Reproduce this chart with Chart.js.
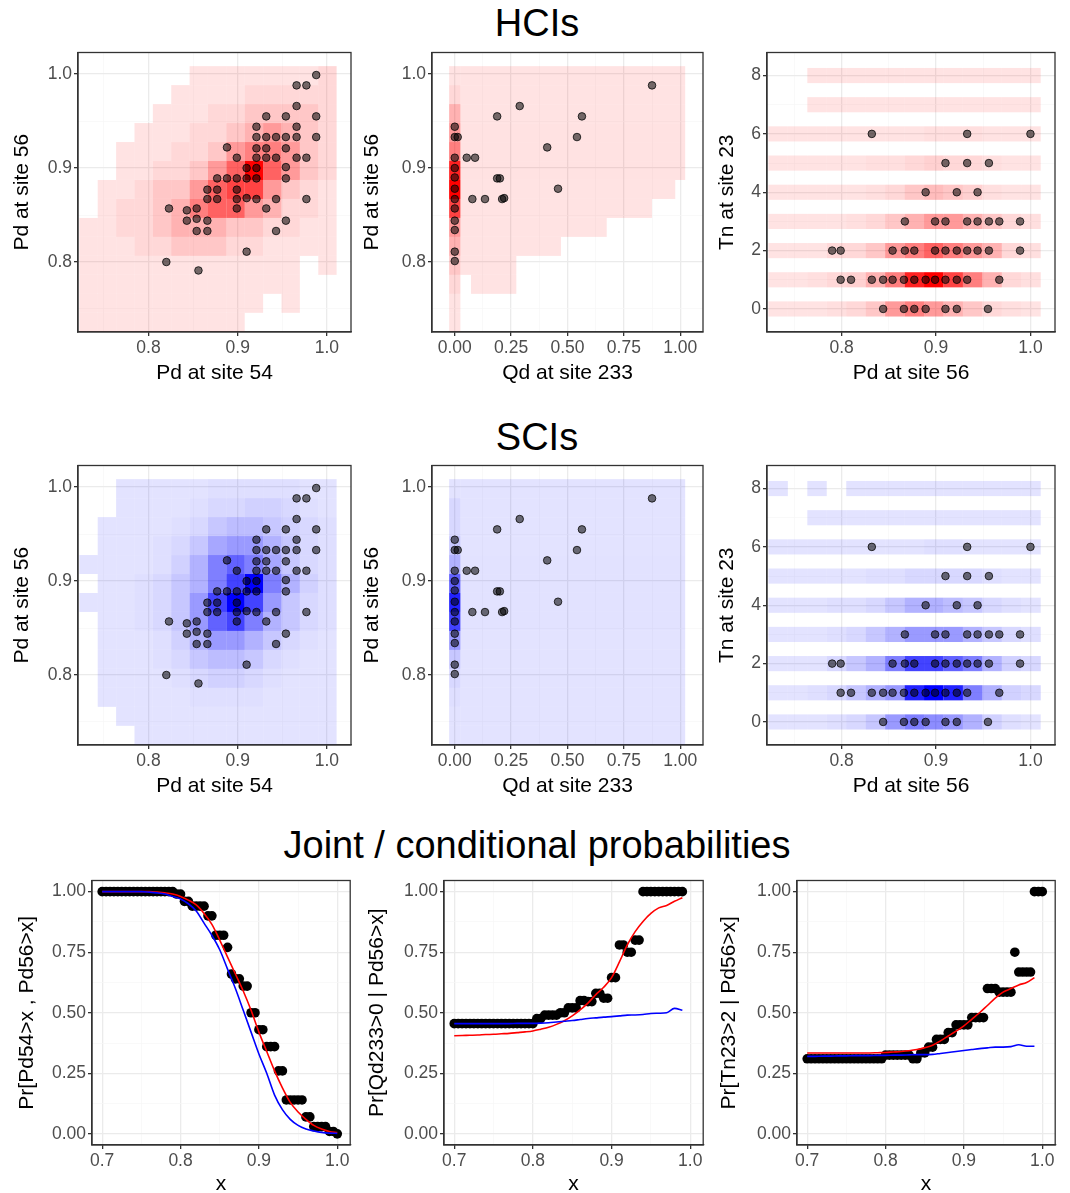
<!DOCTYPE html>
<html>
<head>
<meta charset="utf-8">
<script src="https://cdn.jsdelivr.net/npm/chart.js@4.4.1/dist/chart.umd.min.js"></script>
<style>
  body { margin: 0; background: #fff; width: 1070px; height: 1193px; position: relative; overflow: hidden; font-family: "Liberation Sans", Arial, sans-serif; }
  .ttl { position: absolute; left: 0; width: 1074px; text-align: center; font-size: 38px; color: #000; }
  canvas { position: absolute; }
</style>
</head>
<body>
<div class="ttl" style="top:2px">HCIs</div>
<div class="ttl" style="top:416px">SCIs</div>
<div class="ttl" style="top:824px">Joint / conditional probabilities</div>
<canvas id="c1" style="left:10px;top:40px" width="346" height="346"></canvas>
<canvas id="c2" style="left:360px;top:40px" width="348" height="346"></canvas>
<canvas id="c3" style="left:715px;top:40px" width="345" height="346"></canvas>
<canvas id="c4" style="left:10px;top:453px" width="346" height="346"></canvas>
<canvas id="c5" style="left:360px;top:453px" width="348" height="346"></canvas>
<canvas id="c6" style="left:715px;top:453px" width="345" height="346"></canvas>
<canvas id="c7" style="left:15px;top:868px" width="340" height="329"></canvas>
<canvas id="c8" style="left:365px;top:868px" width="343" height="329"></canvas>
<canvas id="c9" style="left:717px;top:868px" width="343" height="329"></canvas>
<script>
// observed points: Pd at site 54 / Pd at site 56
const pd54 = [0.988,0.966,0.977,0.966,0.932,0.954,0.988,0.921,0.966,0.921,0.932,0.943,0.954,0.966,0.988,0.921,0.932,0.954,0.888,0.899,0.921,0.932,0.943,0.966,0.977,0.910,0.921,0.954,0.877,0.888,0.899,0.910,0.921,0.954,0.866,0.877,0.899,0.866,0.877,0.899,0.910,0.921,0.943,0.977,0.854,0.843,0.823,0.899,0.932,0.843,0.854,0.866,0.954,0.854,0.866,0.943,0.910,0.820,0.856];
const pd56 = [0.999,0.988,0.988,0.966,0.955,0.955,0.955,0.944,0.944,0.933,0.933,0.933,0.933,0.933,0.933,0.921,0.921,0.921,0.922,0.911,0.911,0.911,0.911,0.911,0.911,0.900,0.900,0.901,0.889,0.889,0.889,0.889,0.889,0.889,0.877,0.877,0.877,0.867,0.867,0.867,0.868,0.867,0.867,0.867,0.857,0.855,0.857,0.857,0.857,0.844,0.846,0.844,0.844,0.833,0.833,0.833,0.811,0.800,0.791];
// Qd at site 233 vs Pd at site 56
const qd233 = [0,0,0,0,0,0,0,0,0,0,0,0,0.013,0.053,0.090,0.078,0.134,0.188,0.200,0.210,0.219,0.188,0.288,0.410,0.458,0.542,0.564,0.875];
const qdPd56 = [0.944,0.933,0.911,0.900,0.890,0.878,0.867,0.857,0.844,0.834,0.811,0.801,0.933,0.911,0.911,0.867,0.867,0.889,0.889,0.867,0.868,0.955,0.966,0.922,0.878,0.933,0.955,0.988];
// Pd at site 56 vs Tn at site 23
const tnPd56 = [0.832,0.933,1.0, 0.910,0.933,0.956, 0.889,0.922,0.944, 0.867,0.899,0.910,0.933,0.944,0.956,0.967,0.989,
  0.790,0.799,0.854,0.867,0.877,0.899,0.910,0.922,0.933,0.944,0.956,0.989,
  0.799,0.810,0.832,0.844,0.854,0.866,0.877,0.889,0.899,0.910,0.922,0.933,0.967,
  0.844,0.866,0.877,0.889,0.910,0.922,0.955];
const tn23 = [6,6,6, 5,5,5, 4,4,4, 3,3,3,3,3,3,3,3,
  2,2,2,2,2,2,2,2,2,2,2,2,
  1,1,1,1,1,1,1,1,1,1,1,1,1,
  0,0,0,0,0,0,0];

// heat levels (1 = faint, 10 = full colour), rows from top (Pd56 high) to bottom
const hciPd = [
  [0,0,0,0,0,0,1,1,1,1,1,1,1,2],
  [0,0,0,0,0,1,1,1,1,2,2,2,2,2],
  [0,0,0,0,1,1,1,2,2,3,3,3,3,2],
  [0,0,0,1,1,1,2,2,3,4,5,4,3,2],
  [0,0,1,1,1,2,2,3,5,6,6,5,3,2],
  [0,0,1,1,2,2,3,5,7,10,7,5,3,2],
  [0,1,1,2,3,3,5,7,8,8,5,3,2,1],
  [0,1,2,2,3,4,6,7,7,5,4,2,2,1],
  [1,1,2,2,3,4,4,4,3,3,2,2,1,1],
  [1,1,1,2,2,3,3,3,2,2,1,1,1,1],
  [1,1,1,1,1,1,1,1,1,1,1,1,0,1],
  [1,1,1,1,1,1,1,1,1,1,1,1,0,0],
  [1,1,1,1,1,1,1,1,1,1,0,1,0,0],
  [1,1,1,1,1,1,1,1,1,0,0,0,0,0]
];
const sciPd = [
  [0,0,1,1,1,1,1,1.5,1.5,1.5,1.5,1.5,1,1],
  [0,0,1,1,1,1,1.5,2,2,2.5,2.5,2,1.5,1],
  [0,1,1,1,1,1.5,2,3,3.5,3.5,3,2.5,2,1.5],
  [0,1,1,1,1.5,2,3,4.5,5,5,4,3,2,1.5],
  [1,1,1,1,1.5,2.5,4,6,7,6,4.5,3,2,1.5],
  [0,1,1,1.5,2,3,4,6,8,10,6,4,2.5,1.5],
  [1,1,1,1.5,2,3,5,8,10,8,5,3,2,1.5],
  [0,1,1,1.5,2,3,5,7,8,6,4,3,2,1.5],
  [0,1,1,1,1.5,2.5,4,5,5,4,3,2,1.5,1],
  [0,1,1,1,1.5,2,3,3.5,3.5,3,2,1.5,1,1],
  [0,1,1,1,1,1.5,2,2.5,2.5,2,1.5,1,1,1],
  [0,1,1,1,1,1,1.5,1.5,1.5,1.5,1,1,1,1],
  [0,0,1,1,1,1,1,1,1,1,1,1,1,1],
  [0,0,0,1,1,1,1,1,1,1,1,1,1,1]
];
// Qd panels: narrow column at Qd = 0, then the rest of each row
const hciQd0 = [1,2,4,5,6,9,10,8,5,4,3,2,1,1];
const hciQdRest = [1,1,1,1.1,1.1,1.1,1,1,1,1,1,1,0,0];
const hciQdStart = [0.025,0.025,0.025,0.025,0.025,0.025,0.025,0.025,0.025,0.025,0.025,0.072,0,0];
const hciQdEnd = [1.022,1.022,1.022,1.022,1.022,1.022,0.978,0.875,0.674,0.471,0.273,0.273,0,0];
const sciQd0 = [1,2,2,3,4,7,9,8,5,3,2,1.5,1,1];
const sciQdRest = [1,1,1,1,1.1,1.1,1.1,1.1,1,1,1,1,1,1];
// Tn panels, rows Tn = 8 .. 0
const tnRows = [8,7,6,5,4,3,2,1,0];
const hciTn = [
  [0,0,1,1,1,1,1,1,1,1,1,1,1,1],
  [0,0,1,1,1,1,1,1,1,1,1,1,1,1],
  [1,1,1,1,1,1,1,1,1.5,1.5,1.5,1,1,1],
  [1,1,1,1,1,1.5,1.5,2,2.5,2,2,1.5,1,1],
  [1,1,1,1,1,1.5,2,3,3.5,3,2.5,1.5,1,1],
  [1,1,1,1,1.5,2,3,4,5,5,4,3,2,1.5],
  [1,1,1,2,2,3,5,6,7,6,5,4,2,1.5],
  [1,1,1.5,2,2.5,4,6,9,10,8,6,4,2,1.5],
  [1,1,1,1.5,2,3,5,6,5,4,3,2,1.5,1]
];
const sciTn = [
  [1,0,1,0,1,1,1,1,1,1,1,1,1,1],
  [0,0,1,1,1,1,1,1,1,1,1,1,1,1],
  [1,1,1,1,1,1,1,1,1.5,1.5,1,1,1,1],
  [1,1,1,1,1,1.5,1.5,2,2,2,2,1.5,1,1],
  [1,1,1,1.5,1.5,2,3,4,4,3.5,3,2,1.5,1],
  [1,1,1,1.5,2,3,4,5,5,5,4,3,2,1.5],
  [1,1,1,2,3,4,6,8,8,7,6,4,2.5,2],
  [1,1,1.5,2,3,4,5,9,10,9,6,4,2.5,2],
  [1,1,1,1.5,2,3,5,6,5.5,5,4,2.5,1.5,1]
];

// bottom row
const probX = [0.700,0.705,0.710,0.715,0.720,0.725,0.730,0.735,0.740,0.745,0.750,0.755,0.760,0.765,0.770,0.775,0.780,0.785,0.790,0.795,0.800,0.805,0.810,0.815,0.820,0.825,0.830,0.835,0.840,0.845,0.850,0.855,0.860,0.865,0.870,0.875,0.880,0.885,0.890,0.895,0.900,0.905,0.910,0.915,0.920,0.925,0.930,0.935,0.940,0.945,0.950,0.955,0.960,0.965,0.970,0.975,0.980,0.985,0.990,0.995,1.000];
const empJoint = [1,1,1,1,1,1,1,1,1,1,1,1,1,1,1,1,1,1,1,0.99,0.99,0.96,0.96,0.94,0.94,0.94,0.94,0.90,0.90,0.82,0.82,0.82,0.77,0.66,0.64,0.64,0.61,0.61,0.50,0.50,0.43,0.43,0.36,0.36,0.36,0.26,0.26,0.14,0.14,0.14,0.14,0.14,0.07,0.07,0.03,0.03,0.03,0.03,0.01,0.01,0.00];
const empQd = [0.455,0.455,0.455,0.455,0.455,0.455,0.455,0.455,0.455,0.455,0.455,0.455,0.455,0.455,0.455,0.455,0.455,0.455,0.455,0.455,0.455,0.476,0.476,0.49,0.49,0.49,0.49,0.50,0.50,0.52,0.52,0.52,0.55,0.55,0.546,0.546,0.58,0.58,0.56,0.56,0.645,0.645,0.78,0.78,0.75,0.75,0.80,0.80,1,1,1,1,1,1,1,1,1,1,1,null,null];
const empTn = [0.31,0.31,0.31,0.31,0.31,0.31,0.31,0.31,0.31,0.31,0.31,0.31,0.31,0.31,0.31,0.31,0.31,0.31,0.31,0.31,0.325,0.325,0.325,0.325,0.325,0.325,0.325,0.31,0.31,0.334,0.334,0.358,0.358,0.39,0.39,0.39,0.418,0.418,0.45,0.45,0.45,0.45,0.48,0.48,0.48,0.48,0.60,0.60,0.60,0.585,0.585,0.585,0.585,0.75,0.668,0.668,0.668,0.668,1,1,1];
const lineX = [0.70,0.71,0.72,0.73,0.74,0.75,0.76,0.77,0.78,0.79,0.80,0.81,0.82,0.83,0.84,0.85,0.86,0.87,0.88,0.89,0.90,0.91,0.92,0.93,0.94,0.95,0.96,0.97,0.98,0.99,1.00];
const hciJoint = [1,1,1,1,1,1,1,0.998,0.995,0.99,0.98,0.965,0.945,0.91,0.865,0.80,0.73,0.66,0.59,0.51,0.42,0.34,0.26,0.19,0.13,0.09,0.06,0.035,0.02,0.01,0.005];
const sciJoint = [1,1,1,1,1,1,0.998,0.995,0.99,0.98,0.97,0.95,0.92,0.87,0.82,0.76,0.68,0.60,0.51,0.42,0.33,0.25,0.16,0.10,0.06,0.035,0.02,0.012,0.006,0.003,0.002];
const hciQd = [0.405,0.406,0.407,0.408,0.41,0.411,0.413,0.415,0.418,0.421,0.425,0.432,0.44,0.452,0.467,0.487,0.512,0.54,0.575,0.605,0.645,0.71,0.78,0.835,0.877,0.91,0.933,0.943,0.96,0.975,null];
const sciQd = [0.455,0.455,0.455,0.455,0.455,0.455,0.455,0.455,0.456,0.456,0.456,0.457,0.459,0.462,0.465,0.468,0.472,0.476,0.479,0.482,0.484,0.487,0.490,0.491,0.493,0.497,0.498,0.50,0.518,0.51,null];
const hciTnLine = [0.334,0.334,0.334,0.334,0.334,0.334,0.334,0.334,0.334,0.335,0.336,0.338,0.34,0.343,0.348,0.356,0.366,0.384,0.404,0.424,0.446,0.473,0.50,0.53,0.56,0.585,0.60,0.615,0.625,0.645,null];
const sciTnLine = [0.32,0.32,0.321,0.321,0.322,0.322,0.323,0.323,0.323,0.324,0.324,0.325,0.325,0.326,0.327,0.327,0.328,0.332,0.336,0.34,0.344,0.348,0.352,0.355,0.358,0.358,0.36,0.368,0.362,0.362,null];

const HX0 = 0.7225, HDX = 0.0206, HY1 = 1.0085, HDY = 0.0202;
const RED = [255, 0, 0], BLUE = [0, 0, 255];

function fill(rgb, l) {
  const a = 0.11 + 0.89 * Math.pow((l - 1) / 9, 1.4);
  return `rgba(${rgb[0]},${rgb[1]},${rgb[2]},${a.toFixed(3)})`;
}
function gridCells(mat, rgb) {
  const out = [];
  mat.forEach((row, r) => row.forEach((l, c) => {
    if (l > 0) out.push({ x0: HX0 + c * HDX, x1: HX0 + (c + 1) * HDX, y0: HY1 - (r + 1) * HDY, y1: HY1 - r * HDY, col: fill(rgb, l) });
  }));
  return out;
}
function qdCells(col0, rest, start, end, rgb) {
  const out = [];
  col0.forEach((l, r) => {
    const y0 = HY1 - (r + 1) * HDY, y1 = HY1 - r * HDY;
    out.push({ x0: -0.025, x1: 0.025, y0, y1, col: fill(rgb, l) });
    if (rest[r] > 0 && end[r] > start[r]) out.push({ x0: start[r], x1: end[r], y0, y1, col: fill(rgb, rest[r]) });
  });
  return out;
}
function tnCells(mat, rgb) {
  const out = [];
  mat.forEach((row, r) => row.forEach((l, c) => {
    if (l > 0) out.push({ x0: HX0 + c * HDX, x1: HX0 + (c + 1) * HDX, y0: tnRows[r] - 0.26, y1: tnRows[r] + 0.26, col: fill(rgb, l) });
  }));
  return out;
}

const heatPlugin = {
  id: 'heat',
  beforeDatasetsDraw(chart) {
    const cells = chart.options.plugins.heat.cells;
    if (!cells) return;
    const { ctx, chartArea: a } = chart;
    const xs = chart.scales.x, ys = chart.scales.y;
    ctx.save();
    ctx.beginPath(); ctx.rect(a.left, a.top, a.right - a.left, a.bottom - a.top); ctx.clip();
    cells.forEach(c => {
      const px0 = xs.getPixelForValue(c.x0), px1 = xs.getPixelForValue(c.x1);
      const py0 = ys.getPixelForValue(c.y1), py1 = ys.getPixelForValue(c.y0);
      ctx.fillStyle = c.col;
      ctx.fillRect(px0, py0, px1 - px0, py1 - py0);
    });
    ctx.restore();
  },
  afterDraw(chart) {
    const { ctx, chartArea: a } = chart;
    ctx.save();
    ctx.strokeStyle = '#333'; ctx.lineWidth = 1.3;
    ctx.strokeRect(a.left, a.top, a.right - a.left, a.bottom - a.top);
    ctx.restore();
  }
};
Chart.register(heatPlugin);

function axis(min, max, major, minor, fmt, title, size) {
  const isMajor = v => major.some(m => Math.abs(m - v) < 1e-9);
  return {
    type: 'linear', min, max,
    afterBuildTicks: s => { s.ticks = major.concat(minor).sort((a, b) => a - b).map(v => ({ value: v })); },
    afterFit: s => { if (s.isHorizontal()) s.height = size; else s.width = size; },
    ticks: { autoSkip: false, maxRotation: 0, padding: 2, color: '#4d4d4d', font: { family: 'Liberation Sans', size: 17.5 },
      callback: v => isMajor(v) ? fmt(v) : '' },
    grid: {
      color: c => isMajor(c.tick.value) ? '#ebebeb' : '#f6f6f6',
      lineWidth: c => isMajor(c.tick.value) ? 1.3 : 0.7,
      tickColor: c => isMajor(c.tick.value) ? '#333' : 'rgba(0,0,0,0)',
      tickLength: 4
    },
    border: { color: '#333', width: 1.3 },
    title: { display: true, text: title, color: '#000', padding: { top: 0, bottom: 0 }, font: { family: 'Liberation Sans', size: 21 } }
  };
}
const f1 = v => v.toFixed(1), f2 = v => v.toFixed(2), f0 = v => v.toFixed(0);
const pts = (xs, ys) => xs.map((x, i) => ({ x, y: ys[i] }));

function panel(id, xAx, yAx, datasets, cells) {
  return new Chart(document.getElementById(id), {
    type: 'scatter',
    data: { datasets },
    options: {
      responsive: false, animation: false, events: [],
      layout: { padding: { top: 12, right: 3, left: 0, bottom: 0 } },
      plugins: { legend: { display: false }, tooltip: { enabled: false }, heat: { cells } },
      scales: { x: xAx, y: yAx }
    }
  });
}
function dots(xs, ys) {
  return { data: pts(xs, ys), pointRadius: 3.8, pointBackgroundColor: 'rgba(0,0,0,0.55)', pointBorderColor: 'rgba(0,0,0,0.75)', pointBorderWidth: 1 };
}

const pdX = (t) => axis(0.721, 1.027, [0.8, 0.9, 1.0], [0.75, 0.85, 0.95], f1, t, 54);
const pdY = (w) => axis(0.7255, 1.023, [0.8, 0.9, 1.0], [0.75, 0.85, 0.95], f1, 'Pd at site 56', w);
const qdX = () => axis(-0.101, 1.101, [0, 0.25, 0.5, 0.75, 1], [0.125, 0.375, 0.625, 0.875], f2, 'Qd at site 233', 54);
const tnX = () => axis(0.721, 1.026, [0.8, 0.9, 1.0], [0.75, 0.85, 0.95], f1, 'Pd at site 56', 54);
const tnY = () => axis(-0.79, 8.79, [0, 2, 4, 6, 8], [1, 3, 5, 7], f0, 'Tn at site 23', 52);

panel('c1', pdX('Pd at site 54'), pdY(68), [dots(pd54, pd56)], gridCells(hciPd, RED));
panel('c2', qdX(), pdY(72), [dots(qd233, qdPd56)], qdCells(hciQd0, hciQdRest, hciQdStart, hciQdEnd, RED));
panel('c3', tnX(), tnY(), [dots(tnPd56, tn23)], tnCells(hciTn, RED));
panel('c4', pdX('Pd at site 54'), pdY(68), [dots(pd54, pd56)], gridCells(sciPd, BLUE));
panel('c5', qdX(), pdY(72), [dots(qd233, qdPd56)],
  qdCells(sciQd0, sciQdRest, sciQd0.map(() => 0.025), sciQd0.map(() => 1.022), BLUE).concat(
    [{ x0: 0.025, x1: 1.022, y0: 0.7255, y1: HY1 - 14 * HDY, col: fill(BLUE, 1) }, { x0: -0.025, x1: 0.025, y0: 0.7255, y1: HY1 - 14 * HDY, col: fill(BLUE, 1) }]));
panel('c6', tnX(), tnY(), [dots(tnPd56, tn23)], tnCells(sciTn, BLUE));

function probPanel(id, emp, hci, sci, title, w) {
  return panel(id,
    axis(0.687, 1.0165, [0.7, 0.8, 0.9, 1.0], [0.75, 0.85, 0.95], f1, 'x', 52),
    axis(-0.046, 1.046, [0, 0.25, 0.5, 0.75, 1], [0.125, 0.375, 0.625, 0.875], f2, title, w),
    [
      { data: pts(probX, emp), pointRadius: 4.8, pointBackgroundColor: '#000', pointBorderWidth: 0, order: 3 },
      { type: 'line', data: pts(lineX, hci), borderColor: '#ff0000', borderWidth: 1.6, pointRadius: 0, cubicInterpolationMode: 'monotone', order: 2 },
      { type: 'line', data: pts(lineX, sci), borderColor: '#0000ff', borderWidth: 1.6, pointRadius: 0, cubicInterpolationMode: 'monotone', order: 1 }
    ], null);
}
probPanel('c7', empJoint, hciJoint, sciJoint, 'Pr[Pd54>x , Pd56>x]', 77);
probPanel('c8', empQd, hciQd, sciQd, 'Pr[Qd233>0 | Pd56>x]', 79);
probPanel('c9', empTn, hciTnLine, sciTnLine, 'Pr[Tn23>2 | Pd56>x]', 80);
</script>
</body>
</html>
